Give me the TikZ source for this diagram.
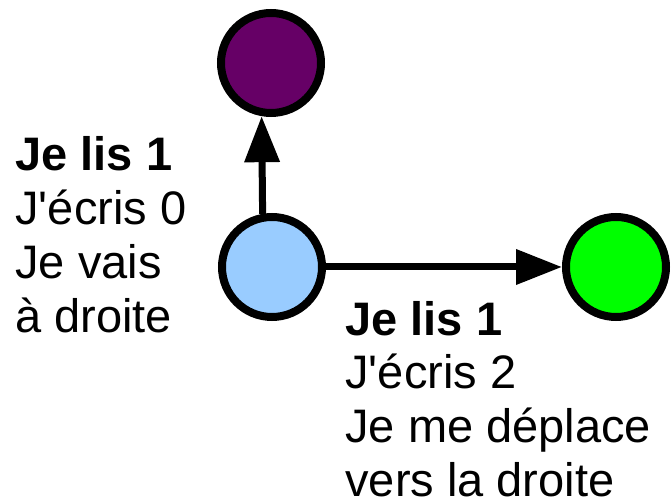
\documentclass[tikz,border=0pt]{standalone}
\usepackage{fontspec}
\setmainfont{Liberation Sans}[Ligatures=TeXOff]
\usetikzlibrary{arrows.meta}

\definecolor{prune}{HTML}{660066}
\definecolor{bleuclair}{HTML}{99CCFF}
\definecolor{vert}{HTML}{00FF00}

\begin{document}
\begin{tikzpicture}[x=0.5pt, y=-0.5pt,
  etat/.style={draw, circle, line width=4pt, minimum size=50pt, inner sep=0pt},
  fleche/.style={-{Triangle[length=23pt, width=17pt]}, line width=3.5pt},
  texte/.style={align=left, font=\fontsize{23.5pt}{27pt}\selectfont, inner sep=0pt, anchor=base west}]
  \useasboundingbox (0,0) rectangle (671,502);

  \node[etat, fill=prune] (haut) at (271,63) {};
  \node[etat, fill=bleuclair] (depart) at (272,267) {};
  \node[etat, fill=vert] (droite) at (616,267) {};

  \draw[fleche] (depart.100) -- (haut.260);
  \draw[fleche] (depart) -- (droite);

  % ancre sur la ligne de base de la derniere ligne
  \node[texte] (regle1) at (15,333) {\textbf{Je lis 1}\\J'écris 0\\Je vais\\à droite};
  \node[texte] (regle2) at (345,497) {\textbf{Je lis 1}\\J'écris 2\\Je me déplace\\vers la droite};
\end{tikzpicture}
\end{document}
